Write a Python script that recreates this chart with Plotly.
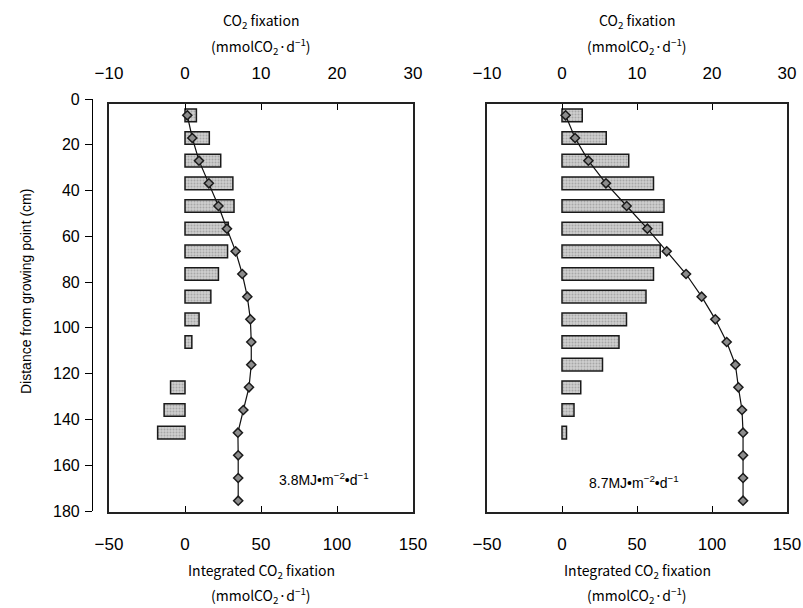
import plotly.graph_objects as go

# Depth of each 10-cm stem segment below the growing point (cm)
depth = [5, 15, 25, 35, 45, 55, 65, 75, 85, 95, 105, 115, 125, 135, 145, 155, 165, 175]

# Low light (3.8 MJ m-2 d-1): segment CO2 fixation and integrated fixation
low_fix = [1.5, 3.2, 4.7, 6.3, 6.45, 5.7, 5.6, 4.4, 3.4, 1.85, 0.9, None, -1.9, -2.75, -3.6, None, None, None]
low_int = [1.5, 4.8, 9.2, 15.7, 22.0, 27.6, 33.3, 37.7, 41.0, 43.0, 43.6, 43.6, 42.1, 38.4, 34.8, 35.0, 35.0, 35.0]

# High light (8.7 MJ m-2 d-1)
high_fix = [2.7, 5.9, 8.9, 12.2, 13.6, 13.4, 13.1, 12.2, 11.2, 8.6, 7.6, 5.4, 2.5, 1.6, 0.6, None, None, None]
high_int = [2.4, 8.7, 17.6, 29.3, 43.1, 56.9, 69.8, 82.7, 93.1, 102.2, 109.8, 115.6, 117.6, 120.0, 120.7, 120.7, 120.7, 120.7]

depth_ticks = [0, 20, 40, 60, 80, 100, 120, 140, 160, 180]
fix_ticks = [-10, 0, 10, 20, 30]
int_ticks = [-50, 0, 50, 100, 150]

panel_labels = ["3.8MJ•m<sup>−2</sup>•d<sup>−1</sup>", "8.7MJ•m<sup>−2</sup>•d<sup>−1</sup>"]

W, H = 803, 608
TICK_FONT = dict(family="Liberation Sans, Arial, sans-serif", size=17, color="black")
TITLE_FONT = dict(family="Noto Sans CJK JP, sans-serif", size=14, color="black")


def px_x(p):
    return p / W


def px_y(p):
    return 1 - p / H


dom_left = [px_x(109), px_x(413)]
dom_right = [px_x(487), px_x(787)]
dom_box = [px_y(512), px_y(104)]
dom_lab = [px_y(511), px_y(99)]


def zero_pos(dom):
    return dom[0] + (0 - (-50)) / 200 * (dom[1] - dom[0])


fig = go.Figure()

bar_style = dict(
    color="#c2c2c2",
    line=dict(color="#1a1a1a", width=1.5),
    pattern=dict(shape=".", fgcolor="#808080", bgcolor="#cfcfcf", size=3, solidity=0.35),
)
line_style = dict(color="#111111", width=1.2)
marker_style = dict(symbol="diamond", size=7, color="#8c8c8c", line=dict(color="#1a1a1a", width=1.5))

panels = [
    (low_fix, low_int, "x", "x2", "y"),
    (high_fix, high_int, "x3", "x4", "y2"),
]
for fix, integ, xb, xl, ya in panels:
    fig.add_trace(go.Bar(
        x=fix, y=depth, orientation="h", width=5.6,
        marker=bar_style, xaxis=xb, yaxis=ya, showlegend=False,
    ))
    fig.add_trace(go.Scatter(
        x=integ, y=depth, mode="lines+markers",
        line=line_style, marker=marker_style,
        xaxis=xl, yaxis=ya, showlegend=False,
    ))

# Empty trace that carries the shared depth axis on the far left
fig.add_trace(go.Scatter(x=[None], y=[None], xaxis="x", yaxis="y5", showlegend=False))

top_axis = dict(
    side="top", range=[-10, 30], tickvals=fix_ticks, ticks="inside", ticklen=6,
    tickcolor="black", showline=True, linecolor="#222222", linewidth=1.5,
    showgrid=False, zeroline=False, tickfont=TICK_FONT, ticklabelstandoff=16,
    automargin=False,
)
bottom_axis = dict(
    side="bottom", range=[-50, 150], tickvals=int_ticks, ticks="inside", ticklen=6,
    tickcolor="black", showline=True, linecolor="#222222", linewidth=1.5,
    showgrid=False, zeroline=False, tickfont=TICK_FONT, ticklabelstandoff=16,
    automargin=False,
)
box_y = dict(
    domain=dom_box, range=[180, 0], showline=True, mirror=True,
    linecolor="#222222", linewidth=1.5, ticks="", showticklabels=False,
    showgrid=False, zeroline=False, automargin=False,
)
zero_y = dict(
    range=[180, 0], side="right", anchor="free", tickmode="linear", tick0=0, dtick=10,
    ticks="outside", ticklen=5, tickcolor="black", showline=True, linecolor="black",
    linewidth=1.2, showticklabels=False, showgrid=False, zeroline=False, automargin=False,
)

fig.update_layout(
    width=W, height=H,
    margin=dict(l=0, r=0, t=0, b=0, pad=0, autoexpand=False),
    paper_bgcolor="white", plot_bgcolor="rgba(0,0,0,0)",
    hovermode=False, barmode="overlay", showlegend=False,
    xaxis=dict(domain=dom_left, anchor="y", **top_axis),
    xaxis2=dict(overlaying="x", anchor="y", **bottom_axis),
    xaxis3=dict(domain=dom_right, anchor="y2", **top_axis),
    xaxis4=dict(overlaying="x3", anchor="y2", **bottom_axis),
    yaxis=dict(anchor="x", **box_y),
    yaxis2=dict(anchor="x3", **box_y),
    yaxis3=dict(overlaying="y", position=zero_pos(dom_left), **zero_y),
    yaxis4=dict(overlaying="y2", position=zero_pos(dom_right), **zero_y),
    yaxis5=dict(
        domain=dom_lab, range=[180, 0], anchor="free", position=px_x(92), side="left",
        tickvals=depth_ticks, ticks="outside", ticklen=7, tickcolor="black",
        showline=True, linecolor="black", linewidth=1.2, showgrid=False, zeroline=False,
        tickfont=dict(family="Liberation Sans, Arial, sans-serif", size=16, color="black"),
        ticklabelstandoff=2, automargin=False,
    ),
)

annotations = []
for cx in (261, 637):
    annotations += [
        dict(text="CO<sub>2</sub> fixation", x=px_x(cx), y=px_y(21)),
        dict(text="(mmolCO<sub>2</sub>·d<sup>−1</sup>)", x=px_x(cx), y=px_y(46)),
        dict(text="Integrated CO<sub>2</sub> fixation", x=px_x(cx), y=px_y(571)),
        dict(text="(mmolCO<sub>2</sub>·d<sup>−1</sup>)", x=px_x(cx), y=px_y(595)),
    ]
for a in annotations:
    a.update(xref="paper", yref="paper", showarrow=False, font=TITLE_FONT,
             xanchor="center", yanchor="middle")

annotations.append(dict(
    text="Distance from growing point (cm)", x=px_x(26), y=px_y(292),
    xref="paper", yref="paper", showarrow=False, textangle=-90,
    font=dict(family="Liberation Sans, Arial, sans-serif", size=14, color="black"),
    xanchor="center", yanchor="middle",
))
for label, x0, yc in zip(panel_labels, (277, 587), (479, 482)):
    annotations.append(dict(
        text=label, x=px_x(x0), y=px_y(yc), xref="paper", yref="paper",
        showarrow=False, xanchor="left", yanchor="middle",
        font=dict(family="Liberation Sans, Arial, sans-serif", size=14, color="black"),
    ))

fig.update_layout(annotations=annotations)
fig.write_html("out.html")
